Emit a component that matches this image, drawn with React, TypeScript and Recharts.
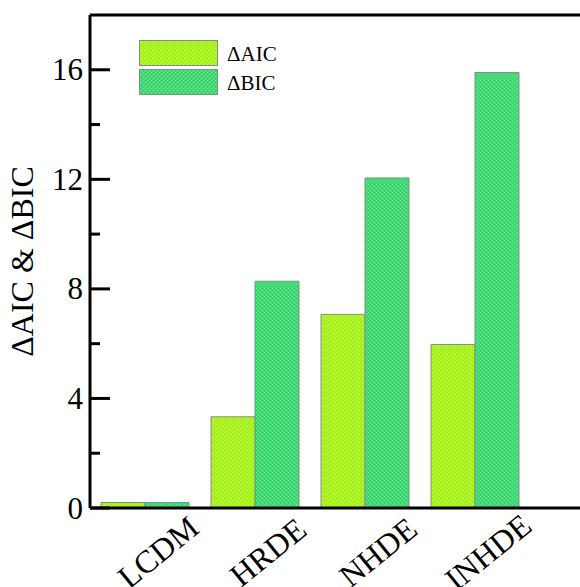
import React from "react";
import {
  BarChart,
  Bar,
  XAxis,
  YAxis,
  ReferenceLine,
} from "recharts";

// model names along the x axis
const models = ["LCDM", "HRDE", "NHDE", "INHDE"];
// values
const deltaAIC = [0.2, 3.33, 7.07, 5.97];
const deltaBIC = [0.2, 8.28, 12.05, 15.9];
// y ticks: majors get a label, minors only a short tick
const yTicks = [0, 2, 4, 6, 8, 10, 12, 14, 16];
const majorTicks = [0, 4, 8, 12, 16];

const data = models.map((m, i) => ({
  model: m,
  aic: deltaAIC[i],
  bic: deltaBIC[i],
}));

const FONT = '"Liberation Serif", "Times New Roman", serif';

const LeftTick = (props: any) => {
  const { x, y, payload } = props;
  const major = majorTicks.includes(payload.value);
  return (
    <g>
      <line
        x1={x}
        x2={x + (major ? 20 : 10)}
        y1={y}
        y2={y}
        stroke="#000"
        strokeWidth={3}
      />
      {major && (
        <text
          x={x - 7}
          y={y}
          textAnchor="end"
          dominantBaseline="central"
          fontFamily={FONT}
          fontSize={31}
          fill="#000"
        >
          {payload.value}
        </text>
      )}
    </g>
  );
};

const RightTick = (props: any) => {
  const { x, y, payload } = props;
  const major = majorTicks.includes(payload.value);
  return (
    <line
      x1={x}
      x2={x - (major ? 20 : 10)}
      y1={y}
      y2={y}
      stroke="#000"
      strokeWidth={3}
    />
  );
};

const CatTick = (props: any) => {
  const { x, y, payload } = props;
  const cx = x + 13;
  const cy = y + 44;
  return (
    <text
      x={cx}
      y={cy}
      textAnchor="middle"
      dominantBaseline="central"
      fontFamily={FONT}
      fontSize={32}
      fill="#000"
      transform={`rotate(-39, ${cx}, ${cy})`}
    >
      {payload.value}
    </text>
  );
};

// legend drawn as an overlay so it does not push the plot down
const LegendBox = () => (
  <svg width={160} height={60} style={{ display: "block" }}>
    <rect x={0.5} y={0.5} width={78} height={25} fill="url(#patAIC)" stroke="#8a8a8a" />
    <rect x={0.5} y={29.5} width={78} height={25} fill="url(#patBIC)" stroke="#6f9a7f" />
    <text x={88} y={21} fontFamily={FONT} fontSize={21} fill="#000">
      ΔAIC
    </text>
    <text x={88} y={50} fontFamily={FONT} fontSize={21} fill="#000">
      ΔBIC
    </text>
  </svg>
);

export default function App() {
  return (
    <div
      style={{
        position: "fixed",
        left: 0,
        top: 0,
        width: 580,
        height: 587,
        overflow: "hidden",
        background: "#fff",
      }}
    >
      <BarChart
        width={600}
        height={587}
        data={data}
        margin={{ top: 15, right: 0, left: 0, bottom: 0 }}
        barCategoryGap="10%"
        barGap={0}
      >
        <defs>
          <pattern id="patAIC" width="4" height="4" patternUnits="userSpaceOnUse">
            <rect width="4" height="4" fill="#a9f71f" />
            <rect width="1" height="1" x="0" y="0" fill="#c4fb5a" />
            <rect width="1" height="1" x="2" y="2" fill="#c4fb5a" />
            <rect width="1" height="1" x="2" y="0" fill="#93e012" />
            <rect width="1" height="1" x="0" y="2" fill="#93e012" />
          </pattern>
          <pattern id="patBIC" width="4" height="4" patternUnits="userSpaceOnUse">
            <rect width="4" height="4" fill="#43da77" />
            <rect width="1" height="1" x="0" y="0" fill="#74e69a" />
            <rect width="1" height="1" x="2" y="2" fill="#74e69a" />
            <rect width="1" height="1" x="2" y="0" fill="#35c566" />
            <rect width="1" height="1" x="0" y="2" fill="#35c566" />
          </pattern>
        </defs>
        <XAxis
          dataKey="model"
          height={79}
          padding={{ left: 0, right: 57 }}
          axisLine={{ stroke: "#000", strokeWidth: 3 }}
          tickLine={false}
          tickSize={0}
          tickMargin={0}
          tick={<CatTick />}
          interval={0}
        />
        <YAxis
          yAxisId="left"
          width={90}
          domain={[0, 18]}
          ticks={yTicks}
          interval={0}
          axisLine={{ stroke: "#000", strokeWidth: 3 }}
          tickLine={false}
          tickSize={0}
          tickMargin={0}
          tick={<LeftTick />}
          label={{
            value: "ΔAIC & ΔBIC",
            angle: -90,
            position: "insideLeft",
            dx: 17,
            style: { fontFamily: FONT, fontSize: 32, fill: "#000", textAnchor: "middle" },
          }}
        />
        <YAxis
          yAxisId="right"
          orientation="right"
          width={13}
          domain={[0, 18]}
          ticks={yTicks}
          interval={0}
          axisLine={{ stroke: "#000", strokeWidth: 3 }}
          tickLine={false}
          tickSize={0}
          tickMargin={0}
          tick={<RightTick />}
        />
        <ReferenceLine yAxisId="left" y={18} stroke="#000" strokeWidth={3} ifOverflow="visible" />
        <Bar
          yAxisId="left"
          dataKey="aic"
          name="ΔAIC"
          fill="url(#patAIC)"
          stroke="#8a8a8a"
          strokeWidth={1}
          isAnimationActive={false}
        />
        <Bar
          yAxisId="left"
          dataKey="bic"
          name="ΔBIC"
          fill="url(#patBIC)"
          stroke="#6f9a7f"
          strokeWidth={1}
          isAnimationActive={false}
        />
      </BarChart>
      <div style={{ position: "absolute", left: 139, top: 40 }}>
        <LegendBox />
      </div>
    </div>
  );
}
